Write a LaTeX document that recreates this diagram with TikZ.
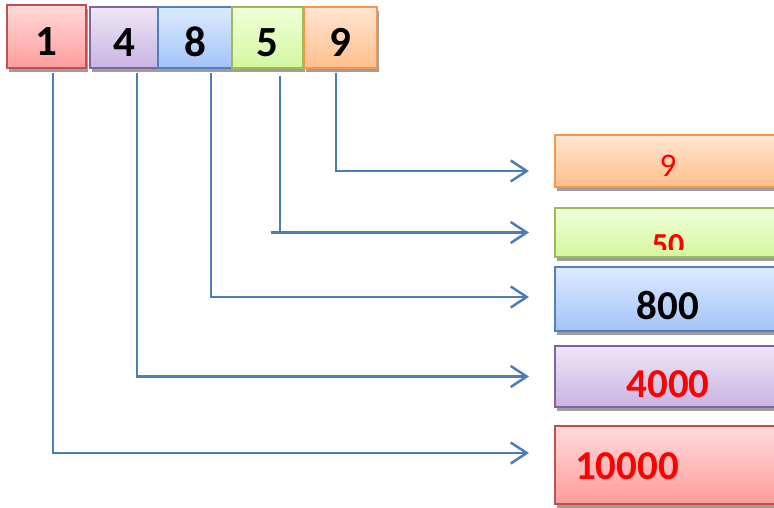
\documentclass[tikz,border=0pt]{standalone}
\usepackage{fontspec}
\setmainfont{Carlito}
\usepackage{xcolor}
\usepackage{tikz}
\usetikzlibrary{arrows.meta,shadows}

\definecolor{redline}{HTML}{C0504D}
\definecolor{redtop}{HTML}{FFDADA}
\definecolor{redbot}{HTML}{FF9C9C}
\definecolor{purpline}{HTML}{8064A2}
\definecolor{purptop}{HTML}{EEE6F6}
\definecolor{purpbot}{HTML}{C8B4E2}
\definecolor{blueline}{HTML}{4F81BD}
\definecolor{bluetop}{HTML}{DDEBFF}
\definecolor{bluebot}{HTML}{A2C3F7}
\definecolor{greenline}{HTML}{9BBB59}
\definecolor{greentop}{HTML}{F0FFD8}
\definecolor{greenbot}{HTML}{D4F7A0}
\definecolor{orangeline}{HTML}{F79646}
\definecolor{orangetop}{HTML}{FFE6D2}
\definecolor{orangebot}{HTML}{FFBE8C}
\definecolor{linkblue}{HTML}{4A7EBB}

\tikzset{
  box/.style={draw, line width=2pt, inner sep=0pt, text depth=0pt,
    drop shadow={shadow xshift=1.5pt, shadow yshift=-4pt, opacity=1, fill=black!38}},
  digitbox/.style={box, minimum height=61pt, text height=39pt, font=\fontsize{43}{43}\selectfont\bfseries},
  valbox/.style={box, minimum width=226pt, text height=41pt, font=\fontsize{41}{41}\selectfont\bfseries},
  redbox/.style={draw=redline, top color=redtop, bottom color=redbot},
  purpbox/.style={draw=purpline, top color=purptop, bottom color=purpbot},
  bluebox/.style={draw=blueline, top color=bluetop, bottom color=bluebot},
  greenbox/.style={draw=greenline, top color=greentop, bottom color=greenbot},
  orangebox/.style={draw=orangeline, top color=orangetop, bottom color=orangebot},
  link/.style={draw=linkblue, line width=2.5pt, -{Straight Barb[length=16pt,width=21pt,line width=2.5pt]}}
}

\begin{document}
\begin{tikzpicture}[x=1pt,y=-1pt]
  \useasboundingbox (0,0) rectangle (774,508);
  \clip (0,0) rectangle (774,508);

  % the number, digit by digit
  \node[digitbox,redbox,minimum width=79pt,minimum height=63pt] (d1) at (46.5,36.5) {1\hspace{17pt}};
  \node[digitbox,purpbox,minimum width=68pt] (d4) at (124,37.5) {4\hspace{4pt}};
  \node[digitbox,bluebox,minimum width=74pt] (d8) at (195,37.5) {8\hspace{12pt}};
  \node[digitbox,greenbox,minimum width=71pt] (d5) at (267.5,37.5) {5\hspace{12pt}};
  \node[digitbox,orangebox,minimum width=73pt] (d9) at (340.5,37.5) {9\hspace{11pt}};

  % place values
  \node[valbox,orangebox,minimum height=52pt,text height=32pt,font=\fontsize{33}{33}\selectfont,text=red] (v9) at (668,161) {9};
  \node[valbox,greenbox,minimum height=49pt] (v50) at (668,232.5) {};
  \begin{scope}
    \clip (v50.north west) rectangle ([yshift=9pt]v50.south east);
    \node[font=\fontsize{32}{32}\selectfont\bfseries,text=red,inner sep=0pt,text depth=0pt,text height=45pt] (t50) at (v50.center) {50};
  \end{scope}
  \node[valbox,bluebox,minimum height=64pt] (v800) at (668,299) {800};
  \node[valbox,purpbox,minimum height=61pt,text=red] (v4000) at (668,376.5) {4000};
  \node[valbox,redbox,minimum height=78pt,text=red,text width=186pt,inner xsep=20pt,align=left,text height=28pt] (v10000) at (668,465) {10000};

  % connectors
  \draw[link] ([xshift=6.5pt,yshift=-4pt]d1.south) |- ([xshift=-25pt,yshift=12pt]v10000.west);
  \draw[link] ([xshift=13pt,yshift=-4pt]d4.south) |- ([xshift=-25pt]v4000.west);
  \draw[link] ([xshift=16pt,yshift=-4pt]d8.south) |- ([xshift=-25pt,yshift=2pt]v800.west);
  \coordinate (top5) at ([xshift=12.5pt,yshift=-7pt]d5.south);
  \coordinate (bend5) at (top5 |- v50.west);
  \draw[link,-] (top5) -- (bend5);
  \draw[link] ([xshift=-9pt]bend5) -- ([xshift=-25pt]v50.west);
  \draw[link] ([xshift=-4.5pt,yshift=-4pt]d9.south) |- ([xshift=-25pt,yshift=-10pt]v9.west);
\end{tikzpicture}
\end{document}
